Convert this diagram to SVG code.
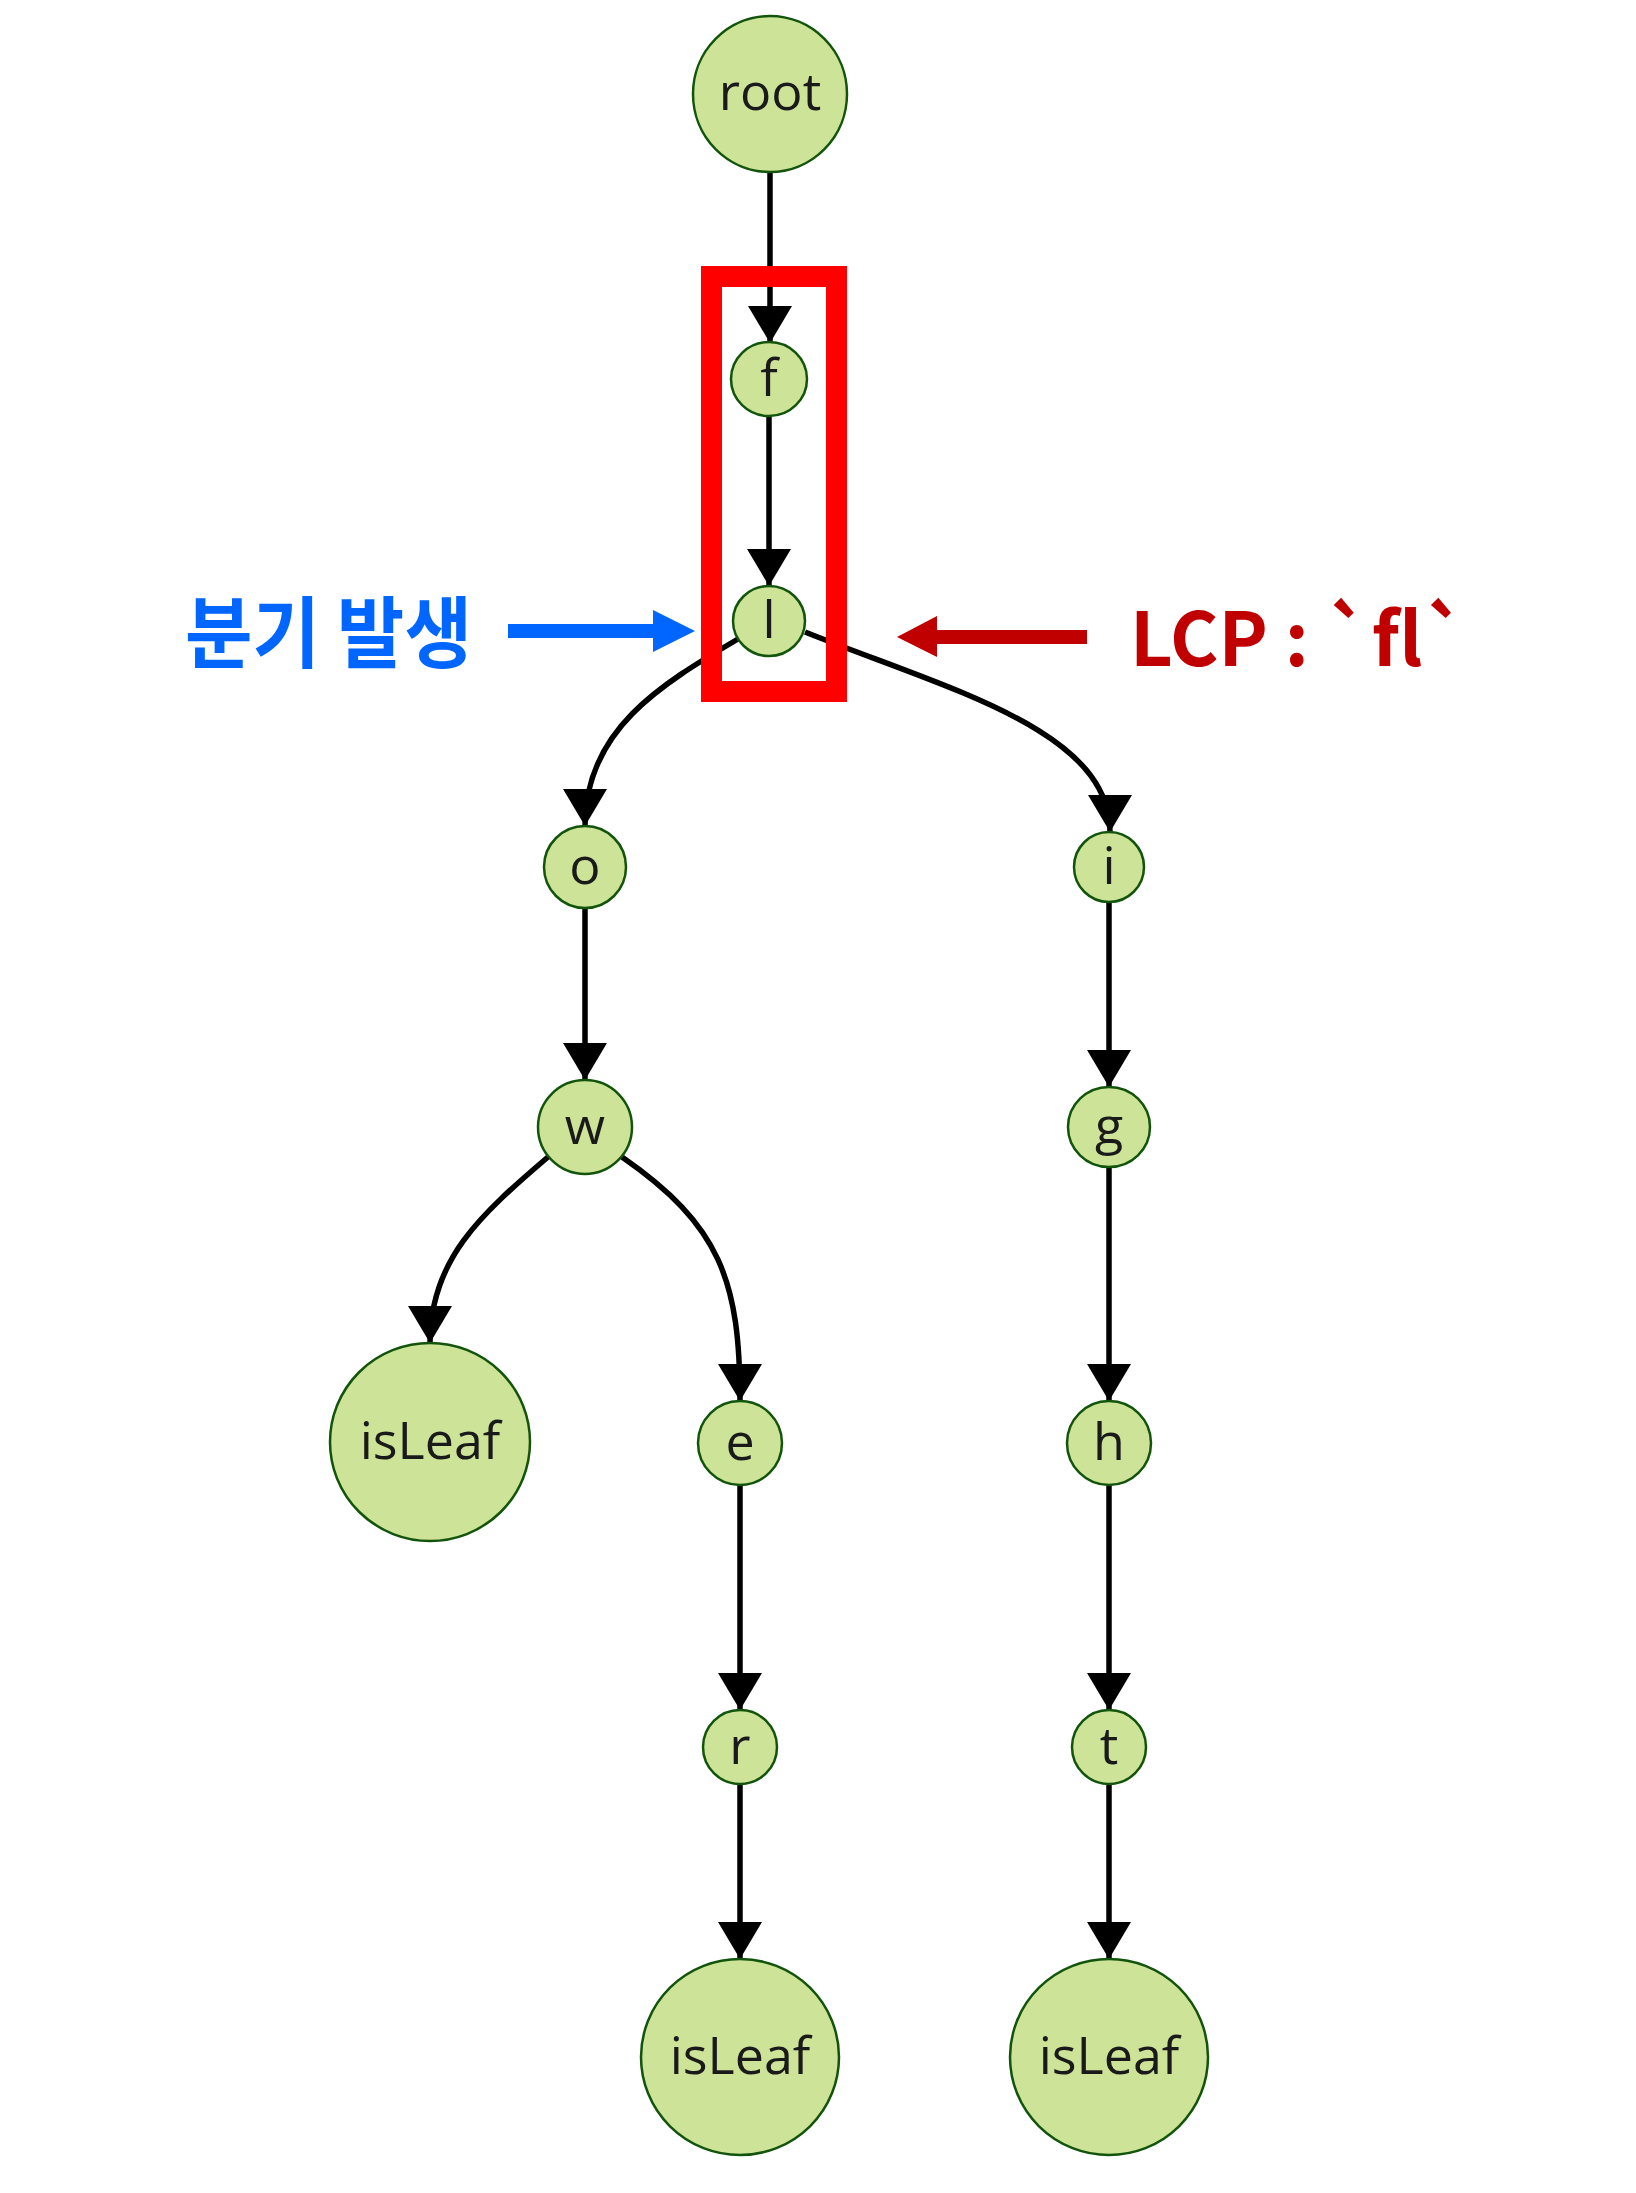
<svg xmlns="http://www.w3.org/2000/svg" width="1636" height="2193" viewBox="0 0 1636 2193">
<style>
.node{fill:#cde498;stroke:#13540c;stroke-width:2.5}
.lbl{font-family:"Open Sans","Noto Sans",sans-serif;font-size:52px;fill:#1a1a1a;text-anchor:middle}
.edge{fill:none;stroke:#000;stroke-width:5.5;marker-end:url(#ah)}
.ann{font-family:"Noto Sans CJK KR","Noto Sans",sans-serif;font-weight:700;font-variant-ligatures:none}
</style>
<defs>
<marker id="ah" markerUnits="userSpaceOnUse" markerWidth="37" markerHeight="44" refX="37" refY="22" orient="auto" overflow="visible">
<path d="M0,0 L37,22 L0,44 Z" fill="#000"/>
</marker>
</defs>
<rect width="1636" height="2193" fill="#fff"/>
<g id="connectors">
<path class="edge" d="M770,171 L770,343"/>
<path class="edge" d="M769,416 L769,586"/>
<path class="edge" d="M738,639 C660,685 585,730 585,826"/>
<path class="edge" d="M805,632 C950,690 1110,730 1110,832"/>
<path class="edge" d="M585,908 L585,1080"/>
<path class="edge" d="M1109,902 L1109,1087"/>
<path class="edge" d="M548,1157 C480,1215 430,1260 430,1343"/>
<path class="edge" d="M622,1157 C720,1225 740,1280 740,1401"/>
<path class="edge" d="M1109,1167 L1109,1401"/>
<path class="edge" d="M740,1485 L740,1710"/>
<path class="edge" d="M1109,1485 L1109,1710"/>
<path class="edge" d="M740,1784 L740,1959"/>
<path class="edge" d="M1109,1784 L1109,1959"/>
</g>
<g id="n-root"><ellipse class="node" cx="770" cy="94" rx="77" ry="78"/><text class="lbl" x="770" y="110">root</text></g>
<g id="n-f"><ellipse class="node" cx="769" cy="379" rx="38" ry="37"/><text class="lbl" x="769" y="396">f</text></g>
<g id="n-l"><ellipse class="node" cx="769" cy="621" rx="36" ry="35"/><text class="lbl" x="769" y="638">l</text></g>
<g id="n-o"><ellipse class="node" cx="585" cy="867" rx="41" ry="41"/><text class="lbl" x="585" y="884">o</text></g>
<g id="n-i"><ellipse class="node" cx="1109" cy="867" rx="35" ry="35"/><text class="lbl" x="1109" y="884">i</text></g>
<g id="n-w"><ellipse class="node" cx="585" cy="1127" rx="47" ry="47"/><text class="lbl" x="585" y="1144">w</text></g>
<g id="n-g"><ellipse class="node" cx="1109" cy="1127" rx="41" ry="40"/><text class="lbl" x="1109" y="1144">g</text></g>
<g id="n-leaf1"><ellipse class="node" cx="430" cy="1442" rx="100" ry="99"/><text class="lbl" x="430" y="1459">isLeaf</text></g>
<g id="n-e"><ellipse class="node" cx="740" cy="1443" rx="42" ry="42"/><text class="lbl" x="740" y="1460">e</text></g>
<g id="n-h"><ellipse class="node" cx="1109" cy="1443" rx="42" ry="42"/><text class="lbl" x="1109" y="1460">h</text></g>
<g id="n-r"><ellipse class="node" cx="740" cy="1747" rx="37" ry="37"/><text class="lbl" x="740" y="1764">r</text></g>
<g id="n-t"><ellipse class="node" cx="1109" cy="1747" rx="37" ry="37"/><text class="lbl" x="1109" y="1764">t</text></g>
<g id="n-leaf2"><ellipse class="node" cx="740" cy="2057" rx="99" ry="98"/><text class="lbl" x="740" y="2074">isLeaf</text></g>
<g id="n-leaf3"><ellipse class="node" cx="1109" cy="2057" rx="99" ry="98"/><text class="lbl" x="1109" y="2074">isLeaf</text></g>
<g id="highlight">
<rect x="711.5" y="276.5" width="125" height="415" fill="none" stroke="#ff0000" stroke-width="21"/>
</g>
<g id="annot-branch">
<text class="ann" x="185" y="662" font-size="78" fill="#0066ff" textLength="287" lengthAdjust="spacingAndGlyphs">분기 발생</text>
<rect x="508" y="624" width="147" height="14" fill="#0066ff"/>
<path d="M653,610 L695,631 L653,652 Z" fill="#0066ff"/>
</g>
<g id="annot-lcp">
<rect x="935" y="630" width="152" height="14" fill="#c00000"/>
<path d="M937,616 L897,637 L937,657 Z" fill="#c00000"/>
<text class="ann" x="1130" y="666" font-size="74" fill="#c00000">LCP : `fl`</text>
</g>
</svg>
